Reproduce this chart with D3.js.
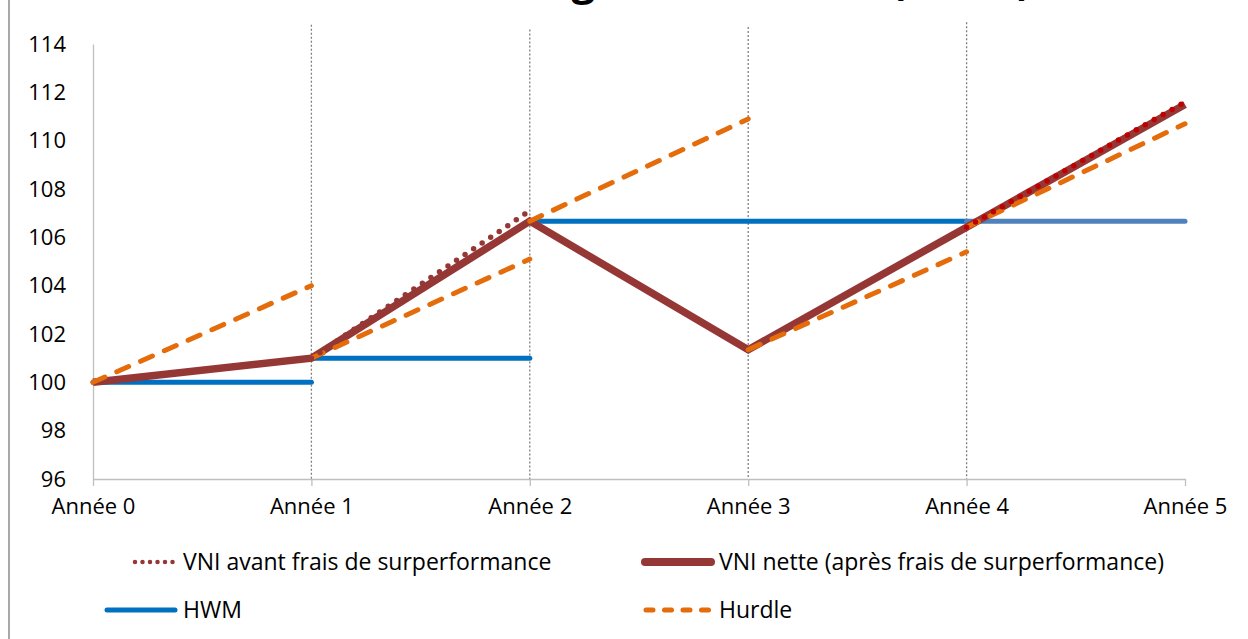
<!DOCTYPE html>
<html>
<head>
<meta charset="utf-8">
<script src="https://cdn.jsdelivr.net/npm/d3@7"></script>
<style>
  body { margin: 0; background: #fff; }
  svg { display: block; font-family: "Open Sans", Lato, sans-serif; }
</style>
</head>
<body>
<svg id="chart" width="1248" height="639"></svg>
<script>
// données
const titre = 'Mécanisme du high water mark (HWM)';
const annees = ['Année 0', 'Année 1', 'Année 2', 'Année 3', 'Année 4', 'Année 5'];
const yTicks = [96, 98, 100, 102, 104, 106, 108, 110, 112, 114];

const vniNette = [100, 101, 106.67, 101.35, 106.42, 111.5];
// VNI avant frais : segments visibles [année, valeur]
const vniAvantA = [[1, 101], [2, 107.1]];
const vniAvantB = [[4, 106.42], [5, 111.6]];
// HWM : [début, fin, niveau]
const hwmDebut = [0, 1, 2, 4];
const hwmFin = [1, 2, 4, 5];
const hwmNiveau = [100, 101, 106.67, 106.67];
// Hurdle : de l'année i à i+1
const hurdleDepart = [100, 101, 106.67, 101.35, 106.42];
const hurdleArrivee = [104, 105.1, 110.9, 105.4, 110.7];
// lignes verticales pointillées (années 1 à 4)
const repereAnnee = [1, 2, 3, 4];
const repereHaut = [114.8, 114.6, 114.7, 114.9];

const legende = [
  { label: 'VNI avant frais de surperformance', type: 'avant' },
  { label: 'VNI nette (après frais de surperformance)', type: 'nette' },
  { label: 'HWM', type: 'hwm' },
  { label: 'Hurdle', type: 'hurdle' }
];

const brun = '#953735';
const rouge = '#C00000';
const bleu = '#0070C0';
const bleuClair = '#4F81BD';
const orange = '#E46C0A';

const svg = d3.select('#chart');

const x = d3.scaleLinear().domain([0, 5]).range([93, 1185]);
const y = d3.scaleLinear().domain([96, 114]).range([479, 44]);

// cadre gauche
svg.append('line')
  .attr('x1', 9).attr('x2', 9).attr('y1', 0).attr('y2', 639)
  .attr('stroke', '#8c8c8c').attr('stroke-width', 1.5);

// titre (coupé en haut, comme sur l'original)
svg.append('text')
  .attr('x', 624).attr('y', -5)
  .attr('text-anchor', 'middle')
  .attr('font-size', 42).attr('font-weight', 'bold')
  .text(titre);

// repères verticaux
svg.selectAll('.repere')
  .data(repereAnnee)
  .enter()
  .append('line')
  .attr('x1', d => x(d)).attr('x2', d => x(d))
  .attr('y1', (d, i) => y(repereHaut[i])).attr('y2', y(96))
  .attr('stroke', '#7f7f7f').attr('stroke-width', 1.3)
  .attr('stroke-dasharray', '2 2');

// axe Y
const axeY = svg.append('g').attr('transform', `translate(${x(0)},0)`)
  .call(d3.axisLeft(y).tickValues(yTicks).tickSize(0).tickPadding(27));
axeY.select('.domain').attr('stroke', '#bfbfbf').attr('stroke-width', 1.3);
axeY.selectAll('text').attr('font-size', 22).attr('font-family', '"Open Sans"').attr('fill', '#000');

// axe X
const axeX = svg.append('g').attr('transform', `translate(0,${y(96)})`)
  .call(d3.axisBottom(x).tickValues(d3.range(6)).tickFormat(i => annees[i]).tickSize(7).tickPadding(12).tickSizeOuter(0));
axeX.select('.domain').attr('stroke', '#bfbfbf').attr('stroke-width', 1.3);
axeX.selectAll('.tick line').attr('stroke', '#bfbfbf').attr('stroke-width', 1.3);
axeX.selectAll('text').attr('font-size', 22).attr('font-family', '"Open Sans"').attr('fill', '#000');

const ligne = d3.line().x(d => x(d[0])).y(d => y(d[1]));

// HWM
svg.selectAll('.hwm')
  .data(hwmNiveau)
  .enter()
  .append('line')
  .attr('x1', (d, i) => x(hwmDebut[i])).attr('x2', (d, i) => x(hwmFin[i]))
  .attr('y1', d => y(d)).attr('y2', d => y(d))
  .attr('stroke', (d, i) => i === 3 ? bleuClair : bleu)
  .attr('stroke-width', 5).attr('stroke-linecap', 'round');

// VNI nette
svg.append('path')
  .attr('d', ligne(vniNette.map((v, i) => [i, v])))
  .attr('fill', 'none').attr('stroke', brun).attr('stroke-width', 7.5)
  .attr('stroke-linejoin', 'miter');

// Hurdle
svg.selectAll('.hurdle')
  .data(hurdleDepart)
  .enter()
  .append('path')
  .attr('d', (d, i) => ligne([[i, d], [i + 1, hurdleArrivee[i]]]))
  .attr('fill', 'none').attr('stroke', orange).attr('stroke-width', 5)
  .attr('stroke-linecap', 'round').attr('stroke-dasharray', '13 13');

// VNI avant frais
svg.append('path')
  .attr('d', ligne(vniAvantA))
  .attr('fill', 'none').attr('stroke', brun).attr('stroke-width', 5.5)
  .attr('stroke-linecap', 'round').attr('stroke-dasharray', '0 10.3');
svg.append('path')
  .attr('d', ligne(vniAvantB))
  .attr('fill', 'none').attr('stroke', rouge).attr('stroke-width', 5.5)
  .attr('stroke-linecap', 'round').attr('stroke-dasharray', '0 10.3');

// légende
const posLeg = [[105, 562], [641, 562], [105, 610], [641, 610]];
const leg = svg.selectAll('.leg')
  .data(legende)
  .enter()
  .append('g')
  .attr('transform', (d, i) => `translate(${posLeg[i][0]},${posLeg[i][1]})`);

leg.each(function (d) {
  const g = d3.select(this);
  if (d.type === 'avant') {
    g.append('line').attr('x1', 30).attr('x2', 70).attr('y1', 0).attr('y2', 0)
      .attr('stroke', brun).attr('stroke-width', 4.5).attr('stroke-linecap', 'round')
      .attr('stroke-dasharray', '0 7.5');
  } else if (d.type === 'nette') {
    g.append('line').attr('x1', 4).attr('x2', 70).attr('y1', 0).attr('y2', 0)
      .attr('stroke', brun).attr('stroke-width', 8).attr('stroke-linecap', 'round');
  } else if (d.type === 'hwm') {
    g.append('line').attr('x1', 2).attr('x2', 70).attr('y1', 0).attr('y2', 0)
      .attr('stroke', bleu).attr('stroke-width', 5).attr('stroke-linecap', 'round');
  } else {
    g.append('line').attr('x1', 5).attr('x2', 70).attr('y1', 0).attr('y2', 0)
      .attr('stroke', orange).attr('stroke-width', 5).attr('stroke-linecap', 'round')
      .attr('stroke-dasharray', '7 11.5');
  }
  g.append('text').attr('x', 78).attr('y', 0).attr('dy', '0.35em')
    .attr('font-size', 23).text(d.label);
});
</script>
</body>
</html>
